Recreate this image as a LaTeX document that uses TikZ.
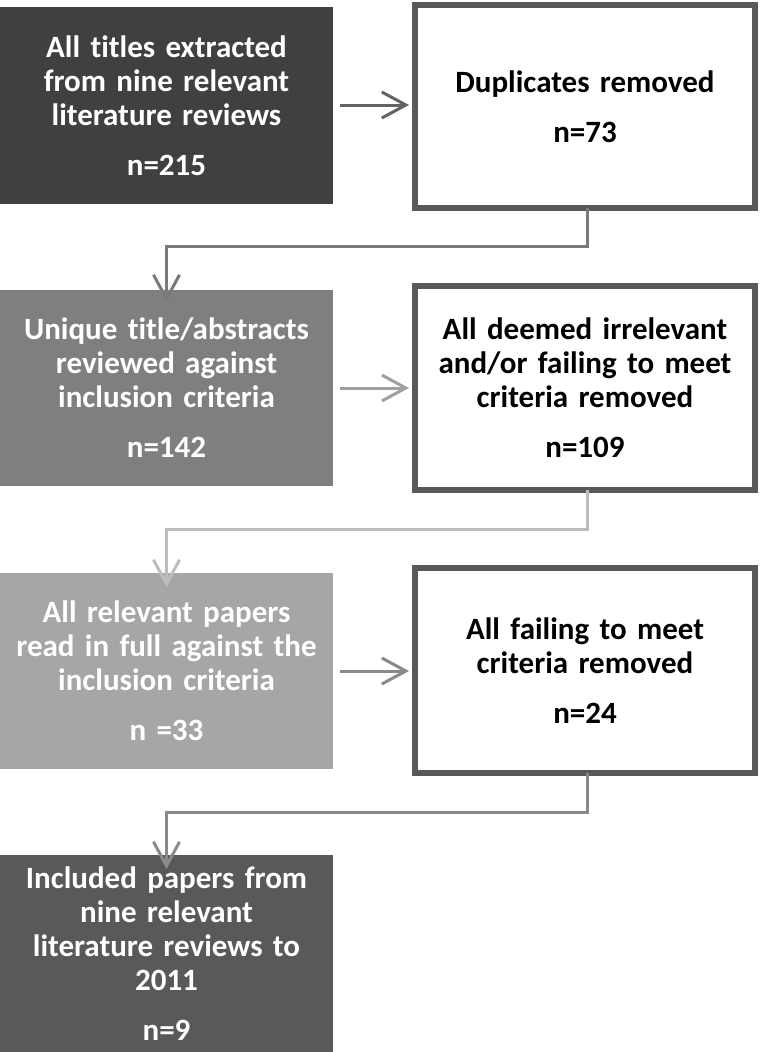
\documentclass[tikz,border=0pt]{standalone}
\usepackage{fontspec}
\setmainfont{Carlito}[RawFeature={-liga}]
\usetikzlibrary{arrows.meta}
\definecolor{boxA}{HTML}{404040}
\definecolor{boxB}{HTML}{7F7F7F}
\definecolor{boxC}{HTML}{A6A6A6}
\definecolor{boxD}{HTML}{595959}
\definecolor{frameC}{HTML}{595959}
\definecolor{arrA}{HTML}{636363}
\definecolor{arrB}{HTML}{7A7A7A}
\definecolor{arrC}{HTML}{A0A0A0}
\definecolor{arrD}{HTML}{BDBDBD}
\definecolor{arrE}{HTML}{8A8A8A}
\begin{document}
\begin{tikzpicture}[x=1pt,y=-1pt,
  txt/.style={font=\bfseries\fontsize{31}{34}\selectfont, align=center},
  leftbox/.style={txt, text=white, minimum width=333pt, text width=326pt,
    inner sep=0pt, outer sep=0pt, draw=none},
  rightbox/.style={txt, text=black, fill=white, draw=frameC, line width=6pt,
    minimum width=340pt, text width=326pt, inner sep=0pt, outer sep=0pt},
  flow/.style={line width=3pt, -{Straight Barb[length=24pt,width=26pt,line width=3pt]}},
]
\useasboundingbox (0,0) rectangle (760,1052);
\fill[white] (0,0) rectangle (760,1052);

\node[leftbox, fill=boxA, minimum height=197pt] (a1) at (166.5,105.5)
  {All titles extracted\\from nine relevant\\literature reviews\\[16pt]n=215};
\node[rightbox, minimum height=203pt] (b1) at (585,106.5)
  {Duplicates removed\\[16pt]n=73};

\node[leftbox, fill=boxB, minimum height=196pt] (a2) at (166.5,388)
  {Unique title/abstracts\\reviewed against\\inclusion criteria\\[16pt]n=142};
\node[rightbox, minimum height=204pt] (b2) at (585,388)
  {All deemed irrelevant\\and/or failing to meet\\criteria removed\\[16pt]n=109};

\node[leftbox, fill=boxC, minimum height=196pt] (a3) at (166.5,671)
  {All relevant papers\\read in full against the\\inclusion criteria\\[16pt]n =33};
\node[rightbox, minimum height=205pt] (b3) at (585,670.5)
  {All failing to meet\\criteria removed\\[16pt]n=24};

\node[leftbox, fill=boxD, minimum height=197pt] (a4) at (166.5,953.5)
  {Included papers from\\nine relevant\\literature reviews to\\2011\\[16pt]n=9};

% horizontal arrows
\draw[flow, arrA] ([xshift=7pt]a1.east|-0,105) -- ([xshift=-6pt]b1.west|-0,105);
\draw[flow, arrC] ([xshift=7pt]a2.east|-0,388) -- ([xshift=-6pt]b2.west|-0,388);
\draw[flow, arrE] ([xshift=7pt]a3.east|-0,671) -- ([xshift=-6pt]b3.west|-0,671);

% elbow connectors
\coordinate (k1) at (587,246);
\coordinate (k2) at (587,529);
\coordinate (k3) at (587,812);
\draw[flow, arrB] (b1.south-|k1) -- (k1) -- (k1-|a2) -- ([yshift=-12pt]a2.north);
\draw[flow, arrD] (b2.south-|k2) -- (k2) -- (k2-|a3) -- ([yshift=-14pt]a3.north);
\draw[flow, arrE] (b3.south-|k3) -- (k3) -- (k3-|a4) -- ([yshift=-14pt]a4.north);
\end{tikzpicture}
\end{document}
